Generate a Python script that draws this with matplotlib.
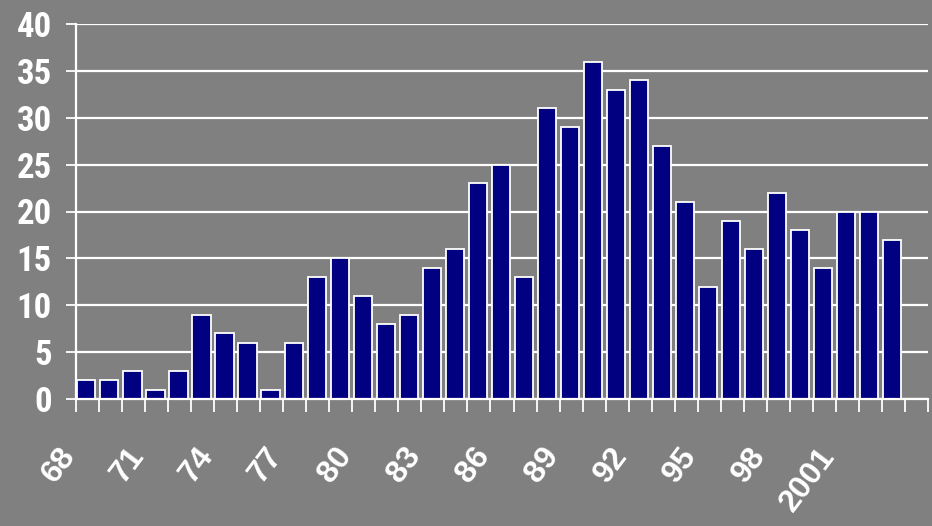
import numpy as np
import matplotlib
matplotlib.use("Agg")
import matplotlib.pyplot as plt
from matplotlib.transforms import ScaledTranslation

# yearly counts, 1968-2003 (one empty slot kept at the end for 2004)
years = list(range(1968, 2004))
counts = [2, 2, 3, 1, 3, 9, 7, 6, 1, 6, 13, 15, 11, 8, 9, 14, 16, 23, 25, 13,
          31, 29, 36, 33, 34, 27, 21, 12, 19, 16, 22, 18, 14, 20, 20, 17]
n_slots = len(years) + 1
label_years = years[::3]
tick_labels = [str(y) if y >= 2000 else str(y % 100) for y in label_years]

bg = "#808080"
navy = "#000080"

fig = plt.figure(figsize=(9.32, 5.26), dpi=100, facecolor=bg)
ax = fig.add_axes([76 / 932, 1 - 399 / 526, 852 / 932, 375 / 526], facecolor=bg)

x = np.arange(len(counts))
ax.bar(x + 0.45, counts, width=0.79, color=navy, edgecolor="white",
       linewidth=1.3, zorder=3)

ax.set_xlim(0, n_slots)
ax.set_ylim(0, 40)

# y axis
ax.set_yticks(range(0, 41, 5))
ax.yaxis.grid(True, color="white", linewidth=1.6, zorder=1)
ax.tick_params(axis="y", colors="white", length=7.5, width=1.3, pad=10)
for lab in ax.get_yticklabels():
    lab.set_fontfamily(["Roboto Condensed", "DejaVu Sans"])
    lab.set_fontweight("bold")
    lab.set_fontsize(25)
    lab.set_color("white")

# x axis: tick marks on slot boundaries, labels every third year
ax.set_xticks(np.arange(0, n_slots + 1), minor=True)
ax.set_xticks(np.arange(0, len(years), 3) + 0.5)
ax.set_xticklabels(tick_labels, rotation=53, ha="right", va="center",
                   rotation_mode="anchor", fontsize=23, fontweight="bold",
                   color="white", family=["Liberation Sans", "DejaVu Sans"])
ax.tick_params(axis="x", which="major", length=0, pad=0)
ax.tick_params(axis="x", which="minor", colors="white", length=9.5, width=1.3)
shift = ScaledTranslation(-0.18, -0.52, fig.dpi_scale_trans)
for lab in ax.get_xticklabels():
    lab.set_transform(lab.get_transform() + shift)

for side in ("top", "right"):
    ax.spines[side].set_visible(False)
for side in ("left", "bottom"):
    ax.spines[side].set_color("white")
    ax.spines[side].set_linewidth(1.6)
    ax.spines[side].set_zorder(4)

fig.savefig("out.png", dpi=100, facecolor=bg)
